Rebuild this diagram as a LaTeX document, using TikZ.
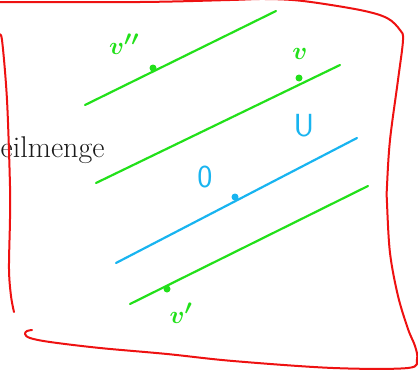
\documentclass[tikz,border=0pt]{standalone}
\usepackage{amsmath,amssymb}
\usepackage{tikz}
\usepackage{xcolor}
\usetikzlibrary{arrows.meta,positioning,calc}
\definecolor{pen}{HTML}{EE1111}
\definecolor{lime}{HTML}{22E01A}
\definecolor{sky}{HTML}{18B4F0}
\definecolor{text}{HTML}{1A1A1A}
\tikzset{
  frame/.style={draw=pen, line width=2pt, line cap=round, line join=round},
  stroke/.style={line width=2.2pt, line cap=round},
  dot/.style={circle, inner sep=0pt, minimum size=7pt},
  hand/.style={font=\fontsize{28}{30}\selectfont\boldmath, inner sep=0pt}
}

\begin{document}
\begin{tikzpicture}[x=1pt,y=-1pt]
  \useasboundingbox (0,0) rectangle (418,372);
  % label at the left edge
  \node[anchor=base west, inner sep=0pt, text=text,
        font=\fontsize{30}{36}\selectfont] (menge) at (0.5,157.5) {eilmenge};
  % hand drawn frame
  \draw[frame] plot[smooth, tension=0.55] coordinates {
    (-3,2) (140,2) (230,0) (265,-1) (303,1) (360,10) (387,18) (400,30)
    (403,40) (398,80) (390,140) (387,186) (387,203) (390,253) (398,296)
    (408,329) (415,346) (417,359) (408,368) (333,368) (233,361) (167,354)
    (100,348) (50,342) (30,338) (25,334) (27,331) (32,330)};
  \draw[frame] plot[smooth, tension=0.55] coordinates {
    (-1,36) (2,40) (7,100) (10,186) (10,219) (9,269) (11,296) (14,312)};
  % parallel lines
  \foreach \name/\col/\xa/\ya/\xb/\yb/\xd/\yd in {%
      upper/lime/85/105/276/11/153/68,
      mid/lime/96/183/340/65/299/78,
      sub/sky/116/263/357/138/235/197,
      low/lime/130/304/368/186/167/289} {
    \coordinate (\name-s) at (\xa,\ya);
    \coordinate (\name-e) at (\xb,\yb);
    \draw[stroke, draw=\col] (\name-s) -- (\name-e);
    \node[dot, fill=\col] (\name-dot) at (\xd,\yd) {};
  }
  % labels
  \node[hand, text=lime] (l-upper) at (124,44) {$v''$};
  \node[hand, text=lime] (l-mid) at (300,54) {$v$};
  \node[hand, text=sky, font=\fontsize{32}{34}\selectfont\sffamily] (l-sub) at (304,126) {U};
  \node[hand, text=sky, font=\fontsize{32}{34}\selectfont\sffamily] (l-zero) at (205,177) {0};
  \node[hand, text=lime] (l-low) at (181,313) {$v'$};
\end{tikzpicture}
\end{document}
